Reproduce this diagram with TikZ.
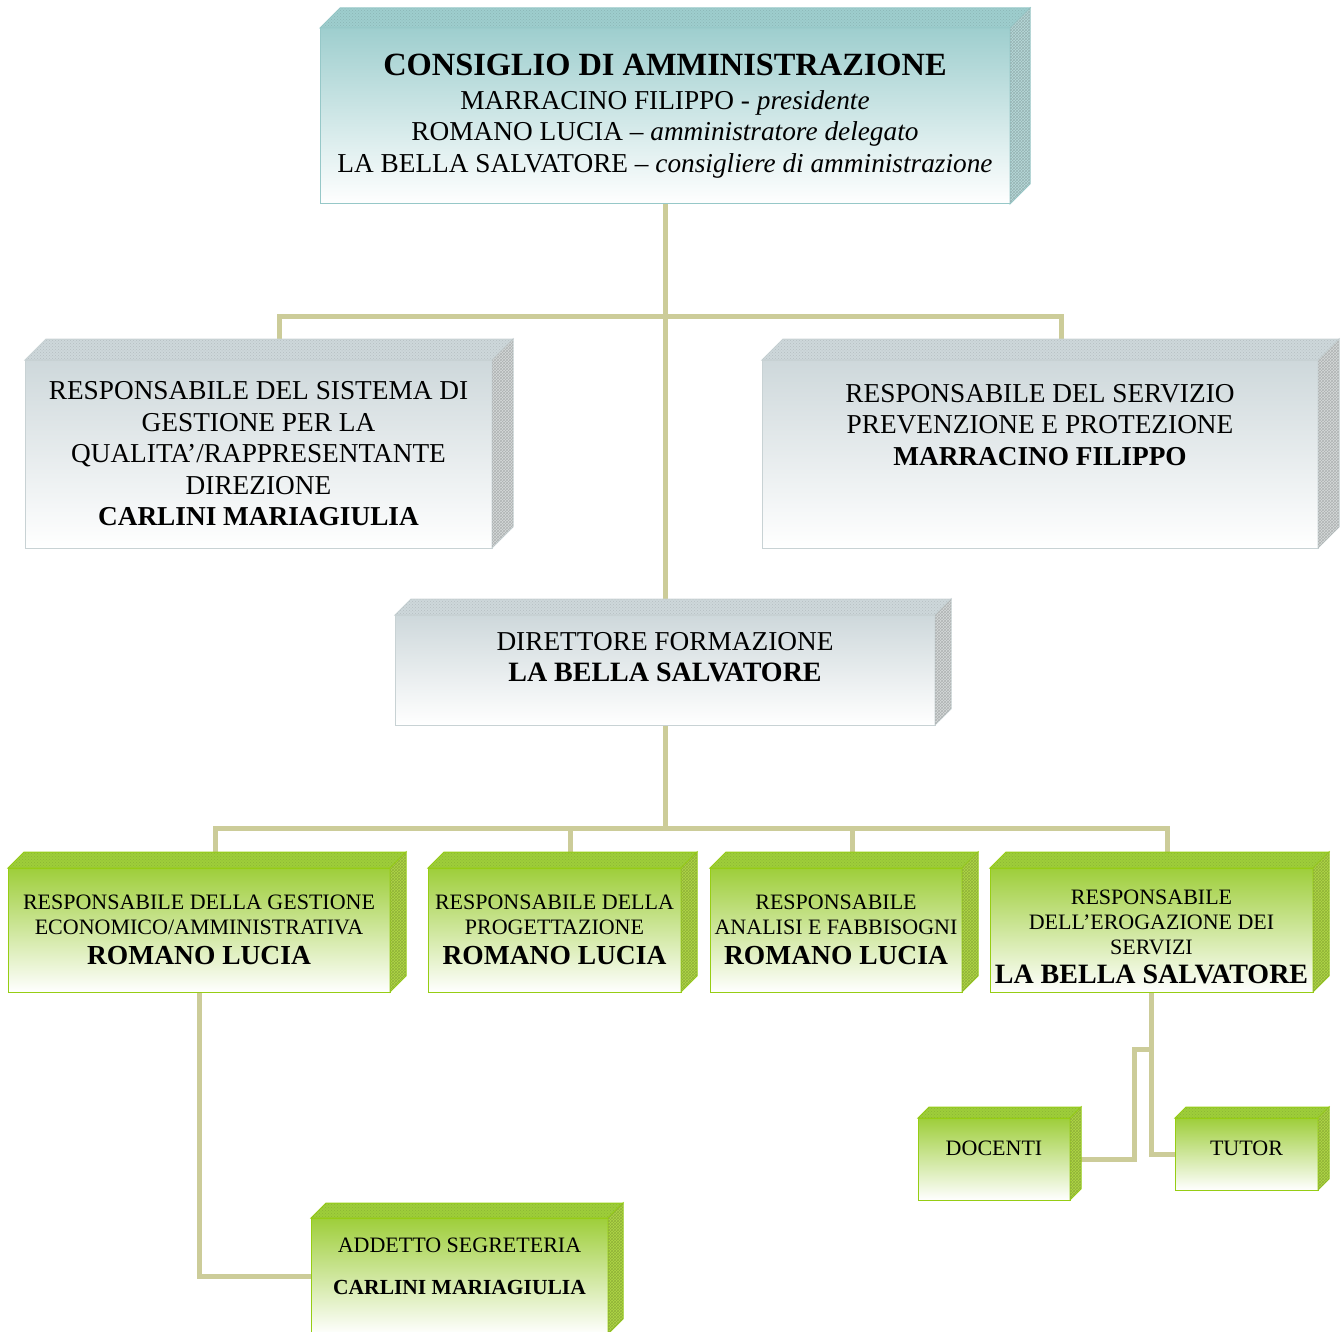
\documentclass[tikz,border=0pt]{standalone}
\usepackage{fontspec}
\setmainfont{Liberation Serif}
\usetikzlibrary{calc, patterns, backgrounds}
\definecolor{linkcol}{RGB}{204, 204, 153}
\definecolor{tealtop}{RGB}{158, 206, 206}
\definecolor{tealside}{RGB}{184, 218, 218}
\definecolor{tealline}{RGB}{150, 200, 200}
\definecolor{graytop}{RGB}{206, 216, 219}
\definecolor{grayside}{RGB}{214, 218, 218}
\definecolor{grayline}{RGB}{200, 210, 212}
\definecolor{greentop}{RGB}{158, 206, 58}
\definecolor{greenside}{RGB}{176, 216, 70}
\definecolor{greenline}{RGB}{150, 205, 20}

% top and right faces of a box node: name, depth, top colour, side colour, line colour
\newcommand{\boxsides}[5]{%
  \filldraw[fill=#3, draw=#5, line width=1pt] (#1.north west) -- ++(#2,-#2) -- ($(#1.north east)+(#2,-#2)$) -- (#1.north east) -- cycle;
  \fill[pattern=crosshatch dots, pattern color=#3!88!black] (#1.north west) -- ++(#2,-#2) -- ($(#1.north east)+(#2,-#2)$) -- (#1.north east) -- cycle;
  \filldraw[fill=#4, draw=#5, line width=1pt] (#1.north east) -- ++(#2,-#2) -- ($(#1.south east)+(#2,-#2)$) -- (#1.south east) -- cycle;
  \fill[pattern=crosshatch, pattern color=#4!82!black] (#1.north east) -- ++(#2,-#2) -- ($(#1.south east)+(#2,-#2)$) -- (#1.south east) -- cycle;
  \coordinate (#1-t) at ($(#1.north)+(#2,-#2)$);
}

\begin{document}
\begin{tikzpicture}[
    x = 1pt, y = -1pt,
    bx/.style = {draw, line width = 1pt, outer sep = 0pt, inner sep = 0pt, align = center},
    tealbox/.style = {bx, draw = tealline, top color = tealtop, bottom color = white},
    graybox/.style = {bx, draw = grayline, top color = graytop, bottom color = white},
    greenbox/.style = {bx, draw = greenline, top color = greentop, bottom color = white},
    bigtxt/.style = {align = center, font = \fontsize{27.3}{31.5}\selectfont},
    smalltxt/.style = {align = center, font = \fontsize{22}{25}\selectfont},
    link/.style = {draw = linkcol, line width = 5pt}
]
\useasboundingbox (0,0) rectangle (1344,1332);

\node[tealbox, bigtxt, minimum width = 690, minimum height = 176] (cda) at (665,116)
  {{\fontsize{32.4}{34}\selectfont\bfseries CONSIGLIO DI AMMINISTRAZIONE}\\[2pt]
   MARRACINO FILIPPO - \textit{presidente}\\
   ROMANO LUCIA – \textit{amministratore delegato}\\
   LA BELLA SALVATORE – \textit{consigliere di amministrazione}};

\node[graybox, bigtxt, minimum width = 467, minimum height = 188] (rsgq) at (258.5,454)
  {RESPONSABILE DEL SISTEMA DI\\ GESTIONE PER LA\\ QUALITA’/RAPPRESENTANTE\\ DIREZIONE\\ \textbf{CARLINI MARIAGIULIA}};
\node[graybox, minimum width = 556, minimum height = 188] (rspp) at (1040,454) {};
\node[bigtxt] (rspp-txt) at ($(rspp)+(0,-29)$)
  {RESPONSABILE DEL SERVIZIO\\ PREVENZIONE E PROTEZIONE\\ \textbf{MARRACINO FILIPPO}};

\node[graybox, minimum width = 540, minimum height = 110] (dirf) at (665,670) {};
\node[bigtxt] (dirf-txt) at ($(dirf)+(0,-13)$) {DIRETTORE FORMAZIONE\\ {\fontsize{28}{31.5}\selectfont\bfseries LA BELLA SALVATORE}};

\node[greenbox, smalltxt, minimum width = 382, minimum height = 124] (g1) at (199,930)
  {RESPONSABILE DELLA GESTIONE\\ ECONOMICO/AMMINISTRATIVA\\[5pt] {\fontsize{27.5}{30}\selectfont\bfseries ROMANO LUCIA}};
\node[greenbox, smalltxt, minimum width = 253, minimum height = 124] (g2) at (554.5,930)
  {RESPONSABILE DELLA\\ PROGETTAZIONE\\[5pt] {\fontsize{27.5}{30}\selectfont\bfseries ROMANO LUCIA}};
\node[greenbox, smalltxt, minimum width = 252, minimum height = 124] (g3) at (836,930)
  {RESPONSABILE\\ ANALISI E FABBISOGNI\\[5pt] {\fontsize{27.5}{30}\selectfont\bfseries ROMANO LUCIA}};
\node[greenbox, minimum width = 323, minimum height = 124] (g4) at (1151.5,930) {};
\node[smalltxt] (g4-txt) at ($(g4)+(0,7)$)
  {RESPONSABILE\\ DELL’EROGAZIONE DEI\\ SERVIZI\\[4pt] {\fontsize{28}{30}\selectfont\bfseries LA BELLA SALVATORE}};

\node[greenbox, minimum width = 152, minimum height = 82] (doc) at (994,1159) {};
\node[smalltxt] (doc-txt) at ($(doc)+(0,-11)$) {DOCENTI};
\node[greenbox, minimum width = 143, minimum height = 72] (tutor) at (1246.5,1154) {};
\node[smalltxt] (tutor-txt) at ($(tutor)+(0,-6)$) {TUTOR};

\node[greenbox, minimum width = 297, minimum height = 116] (add) at (459.5,1276) {};
\node[smalltxt] (add-txt) at ($(add)+(0,-10)$)
  {ADDETTO SEGRETERIA\\[17pt] {\fontsize{21.5}{25}\selectfont\bfseries CARLINI MARIAGIULIA}};

\boxsides{cda}{20}{tealtop}{tealside}{tealline}
\boxsides{rsgq}{21}{graytop}{grayside}{grayline}
\boxsides{rspp}{21}{graytop}{grayside}{grayline}
\boxsides{dirf}{16}{graytop}{grayside}{grayline}
\boxsides{g1}{16}{greentop}{greenside}{greenline}
\boxsides{g2}{16}{greentop}{greenside}{greenline}
\boxsides{g3}{16}{greentop}{greenside}{greenline}
\boxsides{g4}{16}{greentop}{greenside}{greenline}
\boxsides{doc}{11}{greentop}{greenside}{greenline}
\boxsides{tutor}{11}{greentop}{greenside}{greenline}
\boxsides{add}{15}{greentop}{greenside}{greenline}

\begin{scope}[on background layer]
\draw[link] (cda.south) -- (dirf.north);
\draw[link] (rsgq-t) -- ++(0,-22) -| (rspp-t);
\draw[link] (dirf.south) |- ($(g2-t)+(0,-24)$);
\draw[link] (g1-t) -- ++(0,-24) -| (g4-t);
\draw[link] (g2-t) -- ++(0,-24);
\draw[link] (g3-t) -- ++(0,-24);
\draw[link] (g1.south) |- (add.west);
\draw[link] (g4.south) -- ++(0,57) -- ++(-17,0) |- (doc.east);
\draw[link] (g4.south) |- (tutor.west);
\end{scope}
\end{tikzpicture}
\end{document}
